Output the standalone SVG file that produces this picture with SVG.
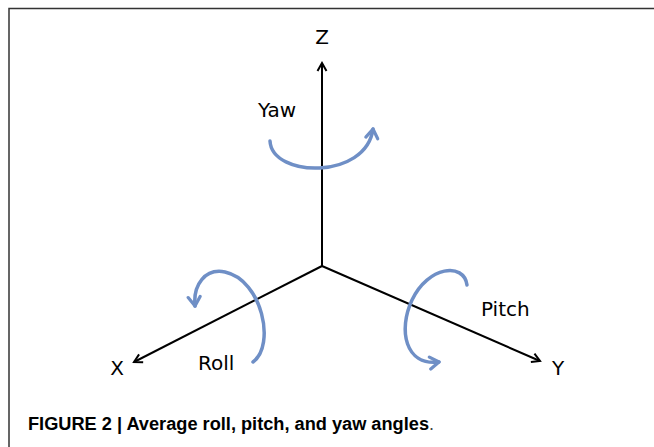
<svg xmlns="http://www.w3.org/2000/svg" width="654" height="447" viewBox="0 0 654 447">
<style>
.axis{stroke:#000;stroke-width:2;fill:none;marker-end:url(#ah)}
.rot{stroke:#6f8fc6;stroke-width:3.5;fill:none;stroke-linecap:round;marker-end:url(#bh)}
.lbl{font-family:"DejaVu Sans",Verdana,sans-serif;font-size:20px;fill:#000}
.cap{font-family:"Liberation Sans",Arial,sans-serif;font-weight:bold;font-size:18px;fill:#000}
</style>
<defs>
<marker id="ah" viewBox="0 0 12 12" refX="10" refY="6" markerWidth="12" markerHeight="12" markerUnits="userSpaceOnUse" orient="auto">
<path d="M2,1.5 L10,6 L2,10.5" fill="none" stroke="#000" stroke-width="2"/>
</marker>
<marker id="bh" viewBox="0 0 16 16" refX="12" refY="8" markerWidth="16" markerHeight="16" markerUnits="userSpaceOnUse" orient="auto">
<path d="M3,2 L12,8 L3,14" fill="none" stroke="#6f8fc6" stroke-width="3.2" stroke-linecap="round" stroke-linejoin="round"/>
</marker>
</defs>
<rect width="654" height="447" fill="#fff"/>
<path d="M9,447 V8.5 H654" fill="none" stroke="#333" stroke-width="1.5"/>
<g id="connectors">
<line class="axis" x1="322" y1="266" x2="322" y2="63"/>
<line class="axis" x1="322" y1="266" x2="134" y2="362"/>
<line class="axis" x1="322" y1="266" x2="540" y2="361"/>
</g>
<g id="yaw">
<path class="rot" d="M270,141 C272,178 366,180 373,129"/>
<text class="lbl" x="258" y="117">Yaw</text>
</g>
<g id="roll">
<path class="rot" d="M253,362 C276,345 262,280 225,272 C205,268 193,285 195,306"/>
<text class="lbl" x="198" y="370">Roll</text>
</g>
<g id="pitch">
<path class="rot" d="M467,285 C464,262 428,266 412,300 C398,330 405,366 439,362"/>
<text class="lbl" x="481" y="316">Pitch</text>
</g>
<g id="z"><text class="lbl" x="322" y="44" text-anchor="middle">Z</text></g>
<g id="x"><text class="lbl" x="117" y="375" text-anchor="middle">X</text></g>
<g id="y"><text class="lbl" x="558" y="375" text-anchor="middle">Y</text></g>
<g id="caption">
<text class="cap" x="28" y="430"><tspan textLength="401" lengthAdjust="spacingAndGlyphs">FIGURE 2 | Average roll, pitch, and yaw angles</tspan><tspan font-weight="normal" fill="#444">.</tspan></text>
</g>
</svg>
